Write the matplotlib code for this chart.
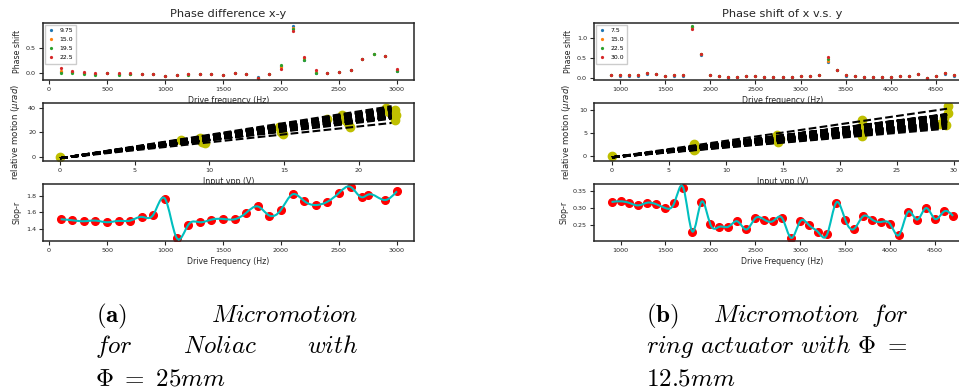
import numpy as np
import matplotlib

matplotlib.use("Agg")
import matplotlib.pyplot as plt
from matplotlib.path import Path
from matplotlib.patches import PathPatch

W, H = 959, 392

# ---- (a) Noliac, phi = 25 mm ----
freq_a = list(range(100, 3001, 100))
phase_a_labels = ["9.75", "15.0", "19.5", "22.5"]
phase_a_975 = [0.02, 0.02, 0.0, -0.02, 0.01, -0.02, -0.02, -0.01, -0.01, -0.05, -0.03, -0.02, -0.01, -0.01,
               -0.03, 0.0, -0.01, -0.08, -0.02, 0.14, 0.95, 0.27, 0.01, 0.0, 0.03, 0.06, 0.28, 0.38, 0.34, 0.05]
phase_a_150 = [0.04, 0.03, 0.01, -0.01, 0.01, -0.01, -0.01, -0.01, -0.01, -0.06, -0.03, -0.02, -0.01, -0.01,
               -0.03, 0.0, -0.01, -0.09, -0.02, 0.12, 0.91, 0.30, 0.03, 0.0, 0.03, 0.06, 0.28, 0.38, 0.34, 0.06]
phase_a_195 = [0.01, 0.01, -0.01, -0.03, 0.01, -0.03, -0.02, -0.01, -0.01, -0.06, -0.03, -0.03, -0.01, -0.01,
               -0.03, 0.0, -0.01, -0.09, -0.02, 0.17, 0.89, 0.26, 0.0, 0.0, 0.03, 0.06, 0.29, 0.39, 0.34, 0.04]
phase_a_225 = [0.11, 0.05, 0.03, 0.01, 0.01, 0.0, 0.0, -0.01, -0.01, -0.06, -0.03, -0.01, -0.01, -0.01,
               -0.03, 0.0, -0.01, -0.09, -0.02, 0.09, 0.85, 0.33, 0.07, 0.0, 0.03, 0.06, 0.29, np.nan, 0.34, 0.08]

volts_a = [0.0, 8.1, 9.36, 9.5, 9.7, 14.66, 14.8, 14.9, 17.9, 18.9, 19.05, 19.3, 19.4,
           21.8, 22.05, 22.4, 22.5, 22.4]
motion_a = [0.0, 13.8, 15.2, 12.4, 11.0, 24.3, 20.7, 18.5, 31.0, 34.5, 30.0, 27.6, 24.8,
            40.0, 37.0, 38.6, 34.5, 30.0]
vmax_a = 22.2
offset_a = -1.0

slope_freq_a = list(range(100, 2701, 100)) + [2750, 2900, 3000]
slope_a = [1.518, 1.506, 1.494, 1.502, 1.482, 1.498, 1.502, 1.547, 1.575, 1.767, 1.294, 1.449, 1.482, 1.514,
           1.522, 1.518, 1.596, 1.673, 1.563, 1.633, 1.82, 1.739, 1.69, 1.73, 1.837, 1.91, 1.784, 1.816,
           1.751, 1.857]

# ---- (b) ring actuator, phi = 12.5 mm ----
freq_b = list(range(900, 4701, 100))
phase_b_labels = ["7.5", "15.0", "22.5", "30.0"]
phase_b_75 = [0.07, 0.06, 0.06, 0.06, 0.11, 0.10, 0.05, 0.06, 0.06, 1.28, 0.58, 0.07, 0.04, 0.01, 0.03, 0.05,
              0.05, 0.03, 0.02, 0.02, 0.03, 0.04, 0.05, 0.07, 0.39, 0.19, 0.06, 0.06, 0.03, 0.02, 0.03, 0.02,
              0.04, 0.04, 0.09, 0.01, 0.04, 0.11, 0.06]
phase_b_150 = [0.08, 0.07, 0.07, 0.07, 0.12, 0.11, 0.06, 0.07, 0.07, 1.27, 0.59, 0.07, 0.04, 0.02, 0.03, 0.05,
               0.05, 0.03, 0.02, 0.02, 0.03, 0.04, 0.05, 0.07, 0.43, 0.20, 0.07, 0.06, 0.03, 0.02, 0.03, 0.03,
               0.04, 0.04, 0.10, 0.01, 0.05, 0.12, 0.08]
phase_b_225 = [0.08, 0.07, 0.07, 0.07, 0.12, 0.11, 0.06, 0.07, 0.07, 1.30, 0.59, 0.075, 0.04, 0.02, 0.03, 0.05,
               0.05, 0.03, 0.02, 0.02, 0.03, 0.04, 0.05, 0.075, 0.47, 0.20, 0.07, 0.06, 0.03, 0.02, 0.03, 0.03,
               0.04, 0.04, 0.10, 0.01, 0.05, 0.12, 0.08]
phase_b_300 = [0.08, 0.07, 0.07, 0.07, 0.12, 0.11, 0.06, 0.07, 0.07, 1.22, 0.60, 0.075, 0.04, 0.02, 0.03, 0.05,
               0.05, 0.03, 0.02, 0.02, 0.03, 0.04, 0.05, 0.075, 0.52, 0.20, 0.07, 0.06, 0.03, 0.02, 0.03, 0.03,
               0.04, 0.04, 0.10, 0.01, 0.05, 0.12, 0.08]

volts_b = [0.0, 7.2, 7.1, 7.2, 7.3, 14.4, 14.6, 14.7, 14.5, 21.9, 22.0, 21.8, 21.95,
           29.5, 29.5, 29.1, 29.35, 28.8]
motion_b = [0.0, 2.6, 1.9, 1.2, 1.6, 4.2, 3.1, 3.6, 4.6, 7.7, 6.4, 5.3, 4.3,
            10.9, 9.3, 8.2, 6.7, 7.0]
vmax_b = 29.4
offset_b = -0.3

slope_freq_b = list(range(900, 4701, 100))
slope_b = [0.318, 0.320, 0.315, 0.308, 0.316, 0.311, 0.300, 0.316, 0.359, 0.231, 0.318, 0.252, 0.245, 0.245,
           0.261, 0.237, 0.270, 0.266, 0.262, 0.270, 0.212, 0.261, 0.249, 0.229, 0.223, 0.316, 0.266, 0.239,
           0.276, 0.266, 0.259, 0.253, 0.221, 0.289, 0.266, 0.300, 0.268, 0.290, 0.277]

DARK = "#262626"
LABEL = 5.7
TICK = 4.6


def px_axes(fig, left, top, right, bottom):
    return fig.add_axes([left / W, 1 - bottom / H, (right - left) / W, (bottom - top) / H])


def style(ax):
    for sp in ax.spines.values():
        sp.set_color(DARK)
        sp.set_linewidth(1.1)
    ax.tick_params(labelsize=TICK, length=3, width=0.8, pad=2, colors=DARK)


def spline_patch(x, y, color):
    # natural cubic spline through the points, drawn as bezier segments
    x = np.asarray(x, float)
    y = np.asarray(y, float)
    n = len(x)
    h = np.diff(x)
    A = np.zeros((n, n))
    r = np.zeros(n)
    A[0, 0] = A[-1, -1] = 1
    for i in range(1, n - 1):
        A[i, i - 1] = h[i - 1]
        A[i, i] = 2 * (h[i - 1] + h[i])
        A[i, i + 1] = h[i]
        r[i] = 6 * ((y[i + 1] - y[i]) / h[i] - (y[i] - y[i - 1]) / h[i - 1])
    M = np.linalg.solve(A, r)
    d = np.empty(n)
    d[:-1] = (y[1:] - y[:-1]) / h - h * (2 * M[:-1] + M[1:]) / 6
    d[-1] = (y[-1] - y[-2]) / h[-1] + h[-1] * (M[-2] + 2 * M[-1]) / 6
    verts = [(x[0], y[0])]
    codes = [Path.MOVETO]
    for i in range(n - 1):
        verts += [(x[i] + h[i] / 3, y[i] + h[i] * d[i] / 3),
                  (x[i + 1] - h[i] / 3, y[i + 1] - h[i] * d[i + 1] / 3),
                  (x[i + 1], y[i + 1])]
        codes += [Path.CURVE4] * 3
    return PathPatch(Path(verts, codes), fill=False, edgecolor=color, lw=1.5, zorder=3)


def column(fig, left, right, title, freq, series, labels, volts, motion, vmax, offset,
           sfreq, slopes, lims):
    ax1 = px_axes(fig, left, 23, right, 80)
    for vals, lab in zip(series, labels):
        ax1.plot(freq, vals, ".", ms=2.6, label=lab)
    ax1.set_title(title, fontsize=8.2, pad=4, color=DARK)
    ax1.set_ylabel("Phase shift", fontsize=LABEL, color=DARK, labelpad=3)
    ax1.set_xlabel("Drive frequency (Hz)", fontsize=LABEL, color=DARK, labelpad=3)
    ax1.legend(loc="upper left", fontsize=4.4, handlelength=0.8, handletextpad=1.0,
               borderpad=0.55, labelspacing=0.6, framealpha=1, edgecolor="#cccccc",
               fancybox=False, borderaxespad=0.3)
    ax1.set_xlim(lims[0])
    ax1.set_ylim(lims[1])

    ax2 = px_axes(fig, left, 103, right, 161)
    ax2.plot(volts, motion, "o", color="y", ms=6, zorder=1)
    xs = np.array([0.0, vmax])
    for s in slopes:
        ax2.plot(xs, s * xs + offset, "k--", lw=1.5, zorder=2)
    ax2.set_ylabel(r"relative motion ($\mu rad$)", fontsize=LABEL + 0.5, color=DARK, labelpad=4)
    ax2.set_xlabel("Input vpp (V)", fontsize=LABEL, color=DARK, labelpad=3)
    ax2.set_xlim(lims[2])
    ax2.set_ylim(lims[3])

    ax3 = px_axes(fig, left, 184, right, 241)
    ax3.plot(sfreq, slopes, "o", color="red", ms=5.5, zorder=2)
    ax3.add_patch(spline_patch(sfreq, slopes, "c"))
    ax3.set_ylabel("Slop-r", fontsize=LABEL, color=DARK, labelpad=3)
    ax3.set_xlabel("Drive Frequency (Hz)", fontsize=LABEL, color=DARK, labelpad=3)
    ax3.set_xlim(lims[4])
    ax3.set_ylim(lims[5])
    for ax in (ax1, ax2, ax3):
        style(ax)
    return ax1, ax2, ax3


fig = plt.figure(figsize=(W / 100, H / 100), dpi=100)

col_a = column(fig, 43, 414, "Phase difference x-y", freq_a,
               [phase_a_975, phase_a_150, phase_a_195, phase_a_225], phase_a_labels,
               volts_a, motion_a, vmax_a, offset_a, slope_freq_a, slope_a,
               [(-52, 3147), (-0.13, 1.0), (-1.14, 23.7), (-3.3, 44), (-52, 3147), (1.255, 1.945)])
col_b = column(fig, 594, 971, "Phase shift of x v.s. y", freq_b,
               [phase_b_75, phase_b_150, phase_b_225, phase_b_300], phase_b_labels,
               volts_b, motion_b, vmax_b, offset_b, slope_freq_b, slope_b,
               [(712, 4888), (-0.05, 1.375), (-1.58, 31.5), (-1.1, 11.5), (705, 4900), (0.203, 0.371)])
col_a[0].set_yticks([0.0, 0.5])
col_b[0].set_yticks([0.0, 0.5, 1.0])
col_a[1].set_yticks([0, 20, 40])
col_b[1].set_yticks([0, 5, 10])
col_a[2].set_yticks([1.4, 1.6, 1.8])
col_b[2].set_yticks([0.25, 0.30, 0.35])


def caption(x, y, s, ha="left"):
    fig.text(x / W, 1 - y / H, s, ha=ha, va="baseline", fontsize=18, color="black",
             math_fontfamily="cm")


caption(96, 322, r"$\mathbf{(a)}$")
caption(358, 322, r"$Micromotion$", ha="right")
caption(95, 353, r"$for$")
caption(183, 353, r"$Noliac$")
caption(358, 353, r"$with$", ha="right")
caption(95, 385, r"$\Phi\ =\ 25mm$")

caption(646, 322, r"$\mathbf{(b)}$")
caption(713, 322, r"$Micromotion$")
caption(908, 322, r"$for$", ha="right")
caption(646, 353, r"$ring\ actuator\ with\ \Phi\ =$")
caption(646, 385, r"$12.5mm$")

fig.savefig("out.png", dpi=100, facecolor="white")
